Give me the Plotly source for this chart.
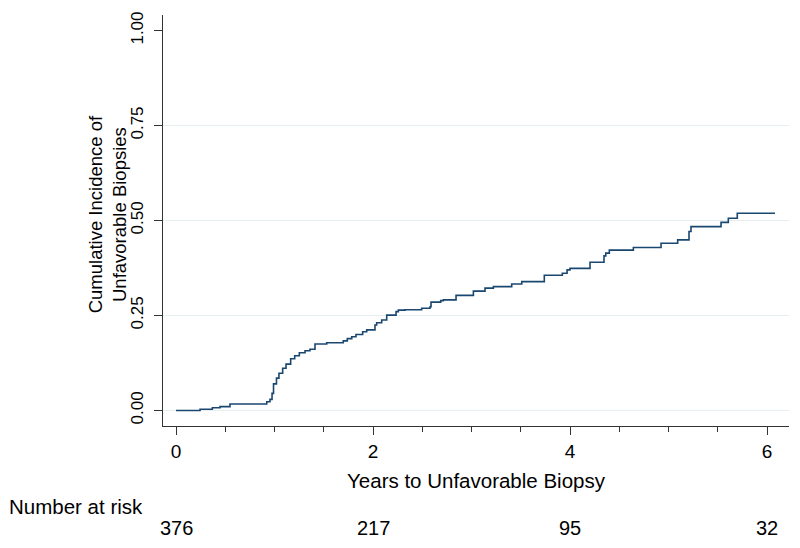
import plotly.graph_objects as go

# Step curve: years and cumulative incidence
years = [0.0, 0.244, 0.369, 0.447, 0.548, 0.921, 0.954, 0.975, 0.99, 1.02, 1.045, 1.083,
         1.117, 1.164, 1.205, 1.252, 1.31, 1.36, 1.411, 1.53, 1.698, 1.739, 1.784, 1.827,
         1.895, 1.936, 2.02, 2.037, 2.088, 2.139, 2.234, 2.257, 2.325, 2.494, 2.579, 2.589,
         2.687, 2.714, 2.843, 3.019, 3.137, 3.222, 3.408, 3.51, 3.739, 3.922, 3.97, 4.0,
         4.203, 4.345, 4.363, 4.399, 4.643, 4.924, 5.093, 5.208, 5.228, 5.533, 5.607,
         5.698, 6.081]
incidence = [0.0, 0.003, 0.007, 0.010, 0.017, 0.023, 0.029, 0.045, 0.07, 0.085, 0.098, 0.111,
             0.122, 0.136, 0.144, 0.152, 0.157, 0.161, 0.175, 0.178, 0.183, 0.189, 0.194, 0.2,
             0.207, 0.212, 0.225, 0.231, 0.238, 0.251, 0.26, 0.264, 0.265, 0.269, 0.273, 0.285,
             0.289, 0.291, 0.303, 0.314, 0.322, 0.326, 0.333, 0.339, 0.356, 0.361, 0.370, 0.374,
             0.39, 0.407, 0.414, 0.422, 0.429, 0.44, 0.449, 0.471, 0.484, 0.495, 0.506,
             0.519, 0.519]

x_ticks = [0, 2, 4, 6]
y_ticks = [0.0, 0.25, 0.5, 0.75, 1.0]
y_tick_labels = ["0.00", "0.25", "0.50", "0.75", "1.00"]
grid_vals = [0.0, 0.25, 0.5, 0.75]
risk_times = [0, 2, 4, 6]
risk_numbers = [376, 217, 95, 32]

FONT = "Liberation Sans, Arial, sans-serif"
LINE = "#1a476f"
AXIS = "#333333"

fig = go.Figure()
fig.add_trace(go.Scatter(x=years, y=incidence, mode="lines", line_shape="hv",
                         line=dict(color=LINE, width=1.6), showlegend=False, hoverinfo="skip"))

for g in grid_vals:
    fig.add_shape(type="line", xref="paper", x0=0, x1=1, yref="y", y0=g, y1=g,
                  line=dict(color="#e6eef1", width=1), layer="below")

fig.update_xaxes(range=[-0.132, 6.223], tickvals=x_ticks, ticks="outside", ticklen=8,
                 tickwidth=1.3, tickcolor=AXIS, showline=True, linecolor=AXIS, linewidth=1.3,
                 showgrid=False, zeroline=False, automargin=False,
                 minor=dict(dtick=0.5, tick0=0, ticks="outside", ticklen=5, tickwidth=1,
                            tickcolor=AXIS, showgrid=False),
                 tickfont=dict(family=FONT, size=19, color="#000"),
                 title=dict(text="Years to Unfavorable Biopsy",
                            font=dict(family=FONT, size=20.5, color="#000"), standoff=12))
fig.update_yaxes(range=[-0.041, 1.041], tickvals=y_ticks, ticktext=y_tick_labels,
                 tickangle=-90, ticks="outside", ticklen=8, tickwidth=1.3, tickcolor=AXIS,
                 showline=True, linecolor=AXIS, linewidth=1.3, showgrid=False, zeroline=False,
                 automargin=False, ticklabelstandoff=4,
                 tickfont=dict(family=FONT, size=17, color="#000"))

fig.add_annotation(text="Cumulative Incidence of<br>Unfavorable Biopsies", textangle=-90,
                   xref="paper", yref="paper", x=-0.0895, y=0.515,
                   xanchor="center", yanchor="middle", showarrow=False,
                   font=dict(family=FONT, size=18.5, color="#000"))
fig.add_annotation(text="Number at risk", xref="paper", yref="paper", x=-0.249, y=-0.197,
                   xanchor="left", yanchor="middle", showarrow=False,
                   font=dict(family=FONT, size=20.5, color="#000"))
for t, n in zip(risk_times, risk_numbers):
    fig.add_annotation(text=str(n), x=t, xref="x", yref="paper", y=-0.248,
                       xanchor="center", yanchor="middle", showarrow=False,
                       font=dict(family=FONT, size=20, color="#000"))

# the page body adds an 8px offset, so margins are shifted to compensate
fig.update_layout(width=800, height=548, margin=dict(l=155, r=19, t=7, b=130),
                  plot_bgcolor="white", paper_bgcolor="white")

fig.write_html("out.html")
